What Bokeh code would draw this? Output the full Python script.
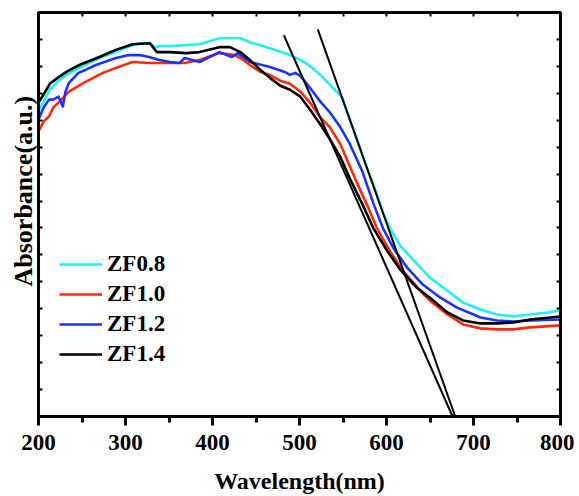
from bokeh.plotting import figure
from bokeh.models import (LinearAxis, FixedTicker, Legend, LegendItem, Title,
                          CustomJSTickFormatter, Range1d)
from bokeh.embed import file_html
from bokeh.resources import INLINE

# ---- data (wavelength nm, absorbance in arbitrary units) ----
zf08_x = [200, 207, 213, 222, 232, 247, 270, 288, 308, 316, 328, 334, 339, 351, 368, 385,
          408, 432, 443, 466, 489, 501, 512, 524, 535, 549, 564, 575, 587, 596, 604, 616,
          631, 650, 670, 688, 708, 727, 746, 765, 785, 800]
zf08_y = [308, 320, 330, 338, 345, 352, 362, 368, 375, 377, 377, 373, 374, 374, 375, 376,
          382, 382, 378, 372, 365, 360, 354, 345, 335, 322, 285, 257, 229, 206, 190, 172,
          158, 140, 127, 115, 108, 103, 101, 103, 105, 107]

zf10_x = [200, 206, 212, 217, 223, 235, 254, 274, 292, 308, 327, 351, 368, 385, 408, 426,
          432, 443, 455, 466, 478, 489, 501, 512, 524, 535, 547, 564, 578, 589, 604, 619,
          631, 642, 650, 670, 688, 708, 727, 746, 765, 800]
zf10_y = [288, 298, 303, 312, 317, 328, 338, 347, 353, 358, 357, 357, 357, 360, 367, 365,
          362, 355, 348, 345, 339, 336, 328, 317, 302, 292, 275, 240, 213, 190, 167, 147,
          135, 124, 117, 103, 93, 89, 88, 88, 90, 92]

zf12_x = [200, 206, 212, 217, 223, 228, 231, 235, 246, 254, 266, 289, 304, 316, 327, 339,
          351, 362, 368, 385, 408, 422, 429, 443, 466, 483, 489, 495, 501, 512, 524, 535,
          547, 558, 572, 585, 596, 608, 624, 642, 662, 681, 700, 708, 727, 746, 765, 800]
zf12_y = [300, 312, 320, 320, 323, 313, 328, 337, 347, 350, 355, 362, 365, 365, 363, 360,
          358, 357, 362, 358, 368, 363, 367, 358, 353, 348, 345, 347, 344, 332, 318, 307,
          292, 275, 248, 215, 190, 170, 150, 133, 120, 110, 103, 100, 97, 96, 97, 98]

zf14_x = [200, 207, 213, 222, 232, 247, 270, 288, 308, 328, 336, 351, 370, 385, 408, 420,
          432, 443, 455, 466, 478, 489, 501, 512, 524, 535, 547, 558, 572, 585, 601, 616,
          635, 654, 670, 688, 708, 727, 746, 765, 800]
zf14_y = [317, 327, 336, 342, 348, 355, 363, 370, 376, 377, 368, 368, 367, 368, 373, 373,
          368, 360, 350, 342, 334, 330, 323, 310, 295, 280, 262, 240, 215, 190, 167, 148,
          130, 117, 105, 97, 94, 94, 95, 98, 101]

# tangent lines
tan1_x = [482, 676]
tan1_y = [385, 0]
tan2_x = [521, 679]
tan2_y = [391, 0]

series_names = ["ZF0.8", "ZF1.0", "ZF1.2", "ZF1.4"]
series_colors = ["#22F0F0", "#FF2A0A", "#1E32FF", "#000000"]

x_ticks = [200, 300, 400, 500, 600, 700, 800]
x_minor = [250, 350, 450, 550, 650, 750]
y_ticks = [27.2 * i for i in range(16)]

FONT = "Liberation Serif"

p = figure(width=574, height=496, output_backend="svg", toolbar_location=None,
           x_range=Range1d(200, 800), y_range=Range1d(0, 408),
           min_border_left=38, min_border_right=14, min_border_top=12, min_border_bottom=76)
p.background_fill_color = "white"
p.border_fill_color = "white"
p.grid.visible = False
p.outline_line_color = "black"
p.outline_line_width = 3

# bottom axis
xa = p.xaxis[0]
xa.ticker = FixedTicker(ticks=x_ticks, minor_ticks=x_minor)
xa.axis_line_width = 3
xa.major_tick_line_width = 3
xa.minor_tick_line_width = 3
xa.major_tick_out = 9
xa.major_tick_in = 0
xa.minor_tick_out = 6
xa.minor_tick_in = 0
xa.major_label_text_font = FONT
xa.major_label_text_font_style = "bold"
xa.major_label_text_font_size = "23px"
xa.major_label_text_color = "black"
xa.major_label_standoff = 9
xa.axis_label = "Wavelength(nm)"
xa.axis_label_text_font = FONT
xa.axis_label_text_font_style = "bold"
xa.axis_label_text_font_size = "24px"
xa.axis_label_text_color = "black"
xa.axis_label_standoff = 15

empty = CustomJSTickFormatter(code="return ''")

# left axis (no tick labels)
ya = p.yaxis[0]
ya.ticker = FixedTicker(ticks=y_ticks)
ya.formatter = empty
ya.axis_line_width = 3
ya.major_tick_line_width = 2
ya.major_tick_in = 4
ya.major_tick_out = 0
ya.minor_tick_line_color = None
ya.major_label_standoff = 0

ytitle = Title(text="Absorbance(a.u.)", align="left", offset=130, standoff=2,
               text_font=FONT, text_font_style="bold", text_font_size="26px",
               text_color="black")
p.add_layout(ytitle, "left")

# top axis
ta = LinearAxis(ticker=FixedTicker(ticks=x_ticks + x_minor), formatter=empty,
                axis_line_width=3, major_tick_line_width=2, major_tick_in=4,
                major_tick_out=0, minor_tick_line_color=None, major_label_standoff=0)
p.add_layout(ta, "above")
# right axis
ra = LinearAxis(ticker=FixedTicker(ticks=y_ticks), formatter=empty,
                axis_line_width=3, major_tick_line_width=2, major_tick_in=4,
                major_tick_out=0, minor_tick_line_color=None, major_label_standoff=0)
p.add_layout(ra, "right")

renderers = []
for xs, ys, c in zip([zf08_x, zf10_x, zf12_x, zf14_x], [zf08_y, zf10_y, zf12_y, zf14_y],
                     series_colors):
    r = p.line(xs, ys, line_color=c, line_width=2.6, line_join="round")
    renderers.append(r)

p.line(tan1_x, tan1_y, line_color="black", line_width=2)
p.line(tan2_x, tan2_y, line_color="black", line_width=2)

legend = Legend(items=[LegendItem(label=n, renderers=[r]) for n, r in zip(series_names, renderers)],
                location=(21, 49), border_line_color=None, background_fill_alpha=0,
                padding=0, margin=0, spacing=4, glyph_width=43, glyph_height=26,
                label_height=26, label_standoff=5,
                label_text_font=FONT, label_text_font_style="bold",
                label_text_font_size="23px", label_text_color="black")
p.add_layout(legend)

open("out.html", "w").write(file_html(p, INLINE))
